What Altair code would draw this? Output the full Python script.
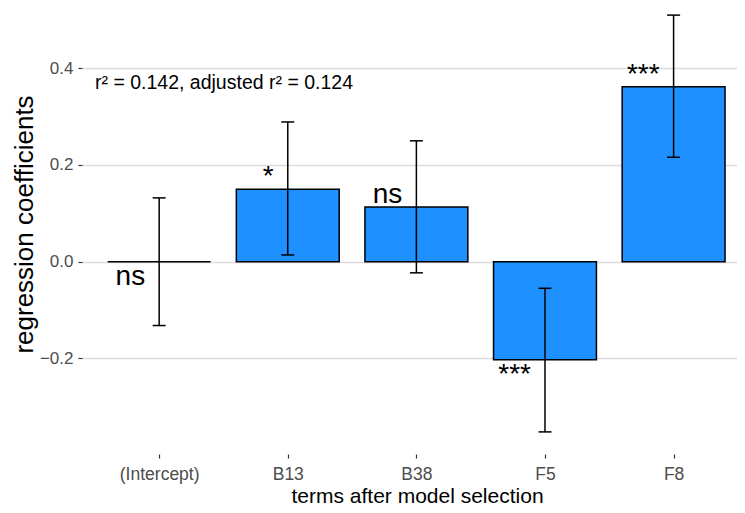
import altair as alt
import pandas as pd

terms = ["(Intercept)", "B13", "B38", "F5", "F8"]
coef = [0.0, 0.150, 0.113, -0.203, 0.362]
lower = [-0.132, 0.014, -0.023, -0.352, 0.216]
upper = [0.132, 0.289, 0.250, -0.055, 0.510]
sig = ["ns", "*", "ns", "***", "***"]
r2_text = "r\u00b2 = 0.142, adjusted r\u00b2 = 0.124"

df = pd.DataFrame({"term": terms, "coef": coef, "lower": lower, "upper": upper, "sig": sig})

FONT = "Liberation Sans"
terms_js = "[" + ",".join("'" + t + "'" for t in terms) + "]"

x_scale = alt.Scale(domain=[-0.6, 4.493], nice=False, zero=False)
x_axis = alt.Axis(
    title="terms after model selection",
    values=list(range(len(terms))),
    labelExpr=terms_js + "[datum.value]",
    labelAngle=0,
    labelFont=FONT, labelFontSize=17.5, labelColor="#4d4d4d", labelPadding=7,
    labelFlush=False, labelOverlap=False,
    tickSize=4, tickColor="#333333", tickWidth=1.2,
    domain=False, grid=False,
    titleFont=FONT, titleFontSize=21, titleFontWeight="normal", titleColor="black",
    titleBaseline="alphabetic", titleY=48, titleX=335,
)
y_scale = alt.Scale(domain=[-0.3977, 0.5247], nice=False, zero=False)
y_axis = alt.Axis(
    title="regression coefficients",
    values=[-0.2, 0.0, 0.2, 0.4], format=".1f",
    labelFont=FONT, labelFontSize=17, labelColor="#4d4d4d", labelPadding=5,
    tickSize=4, tickColor="#333333", tickWidth=1.2,
    domain=False, grid=True, gridColor="#dcdcdc", gridWidth=1.6,
    titleFont=FONT, titleFontSize=26, titleFontWeight="normal", titleColor="black",
    titleAngle=270, titleBaseline="alphabetic", titleAlign="center",
    titleX=-50, titleY=216,
)

base = alt.Chart(df).transform_calculate(
    idx="indexof(" + terms_js + ", datum.term)",
    lo="datum.idx - 0.4",
    hi="datum.idx + 0.4",
)
xs = alt.X("idx:Q", scale=x_scale, axis=x_axis)

bars = base.mark_bar(color="#1e90ff", stroke="black", strokeWidth=1.5).encode(
    x=alt.X("lo:Q", scale=x_scale, axis=x_axis),
    x2="hi:Q",
    y=alt.Y("coef:Q", scale=y_scale, axis=y_axis),
    y2=alt.datum(0),
)

rules = base.mark_rule(color="black", strokeWidth=1.5).encode(
    x=xs, y=alt.Y("lower:Q", scale=y_scale, axis=y_axis), y2="upper:Q"
)
cap_lo = base.mark_tick(color="black", size=13, thickness=1.5, opacity=1, orient="horizontal").encode(
    x=xs, y=alt.Y("lower:Q", scale=y_scale, axis=y_axis)
)
cap_hi = base.mark_tick(color="black", size=13, thickness=1.5, opacity=1, orient="horizontal").encode(
    x=xs, y=alt.Y("upper:Q", scale=y_scale, axis=y_axis)
)

lab_pos = base.transform_filter("datum.coef > 0").mark_text(
    font=FONT, fontSize=28, color="black", align="right", baseline="alphabetic", dx=-14, dy=-4
).encode(x=xs, y=alt.Y("coef:Q", scale=y_scale, axis=y_axis), text="sig:N")

lab_neg = base.transform_filter("datum.coef <= 0").mark_text(
    font=FONT, fontSize=28, color="black", align="right", baseline="alphabetic", dx=-14, dy=23
).encode(x=xs, y=alt.Y("coef:Q", scale=y_scale, axis=y_axis), text="sig:N")

note = alt.Chart(pd.DataFrame({"t": [r2_text]})).mark_text(
    font=FONT, fontSize=19.5, color="black", align="left", baseline="alphabetic"
).encode(x=alt.value(13), y=alt.value(81), text="t:N")

chart = (
    alt.layer(bars, rules, cap_lo, cap_hi, lab_pos, lab_neg, note)
    .properties(
        width=655, height=446,
        autosize=alt.AutoSizeParams(type="none"),
        padding={"left": 74, "top": 0, "right": 0, "bottom": 51},
    )
    .configure_view(strokeWidth=0, stroke=None)
    .configure(background="white", style={"cell": {"stroke": "transparent", "strokeWidth": 0}})
)

chart.save("out.html", embed_options={"renderer": "svg", "actions": False})
